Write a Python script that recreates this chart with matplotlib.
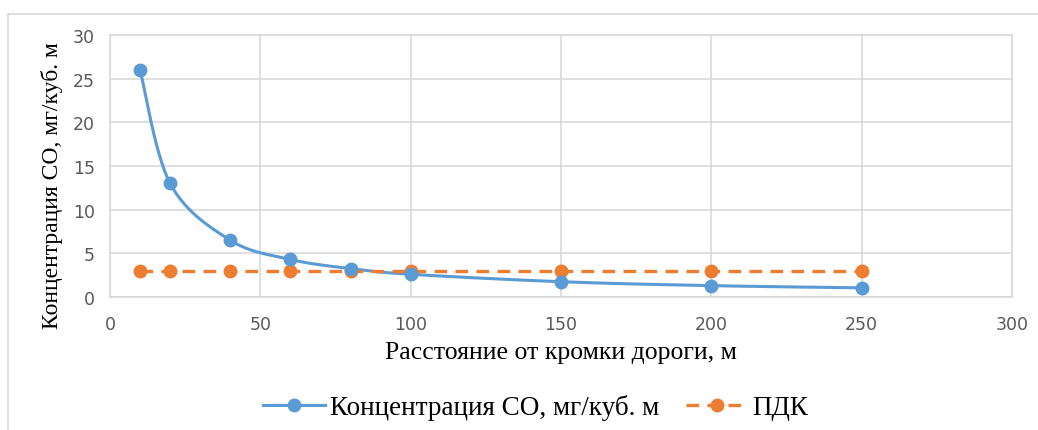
import numpy as np
import matplotlib.pyplot as plt
from matplotlib.patches import Rectangle

# data
distance = [10, 20, 40, 60, 80, 100, 150, 200, 250]
co_conc = [26, 13, 6.5, 4.3, 3.25, 2.6, 1.75, 1.3, 1.05]
pdk = [3, 3, 3, 3, 3, 3, 3, 3, 3]

blue = '#5B9BD5'
orange = '#ED7D31'
grid_c = '#D9D9D9'
tick_c = '#595959'


def smooth(x, y, n=30):
    # Catmull-Rom style bezier through the points (like Excel's smoothed line)
    x = np.asarray(x, float)
    y = np.asarray(y, float)
    px = np.concatenate([[x[0]], x, [x[-1]]])
    py = np.concatenate([[y[0]], y, [y[-1]]])
    xs, ys = [], []
    t = np.linspace(0, 1, n)
    for i in range(1, len(px) - 2):
        p0 = np.array([px[i], py[i]])
        p3 = np.array([px[i + 1], py[i + 1]])
        p1 = p0 + (np.array([px[i + 1], py[i + 1]]) - np.array([px[i - 1], py[i - 1]])) / 6
        p2 = p3 - (np.array([px[i + 2], py[i + 2]]) - np.array([px[i], py[i]])) / 6
        b = ((1 - t) ** 3)[:, None] * p0 + (3 * (1 - t) ** 2 * t)[:, None] * p1 \
            + (3 * (1 - t) * t ** 2)[:, None] * p2 + (t ** 3)[:, None] * p3
        xs.extend(b[:, 0])
        ys.extend(b[:, 1])
    return xs, ys


fig = plt.figure(figsize=(10.38, 4.31), dpi=100)
ax = fig.add_axes([110 / 1038, 1 - 298 / 431, 902 / 1038, 262 / 431])

# outer chart border
fig.patches.append(Rectangle((8 / 1038, -0.1), 1.2, 1 - 15 / 431 + 0.1,
                             transform=fig.transFigure, fill=False,
                             edgecolor='#D9D9D9', linewidth=1.2))

sx, sy = smooth(distance, co_conc)
ax.plot(sx, sy, color=blue, linewidth=2.2, zorder=3)
ax.plot(distance, co_conc, 'o', color=blue, markersize=9, zorder=4)
line_handle, = ax.plot([], [], '-o', color=blue, linewidth=2.2, markersize=9)

pdk_line, = ax.plot(distance, pdk, '--o', color=orange, linewidth=2.4,
                    markersize=9, dashes=(3.8, 2.5), zorder=3)

ax.set_xlim(0, 300)
ax.set_ylim(0, 30)
ax.set_xticks(np.arange(0, 301, 50))
ax.set_yticks(np.arange(0, 31, 5))
ax.grid(True, color=grid_c, linewidth=1.2)
ax.set_axisbelow(True)
for s in ax.spines.values():
    s.set_color(grid_c)
    s.set_linewidth(1.2)
ax.tick_params(axis='x', pad=13)
ax.tick_params(axis='y', pad=11)
ax.tick_params(length=0, colors=tick_c)
for lab in ax.get_xticklabels() + ax.get_yticklabels():
    lab.set_family('DejaVu Sans')
    lab.set_fontsize(12.5)

ax.set_xlabel('Расстояние от кромки дороги, м', family='Liberation Serif',
              fontsize=18.5, labelpad=6)
ax.set_ylabel('Концентрация СО, мг/куб. м', family='Liberation Serif',
              fontsize=17)
ax.yaxis.set_label_coords(-0.052, 0.43)

fig.legend([line_handle, pdk_line], ['Концентрация СО, мг/куб. м', 'ПДК'],
           loc='center', bbox_to_anchor=(0.516, 1 - 408 / 431), ncol=2,
           frameon=False, prop={'family': 'Liberation Serif', 'size': 19.5},
           handlelength=2.3, handletextpad=0.15, columnspacing=1.0)

plt.savefig('out.png', dpi=100)
plt.close(fig)
